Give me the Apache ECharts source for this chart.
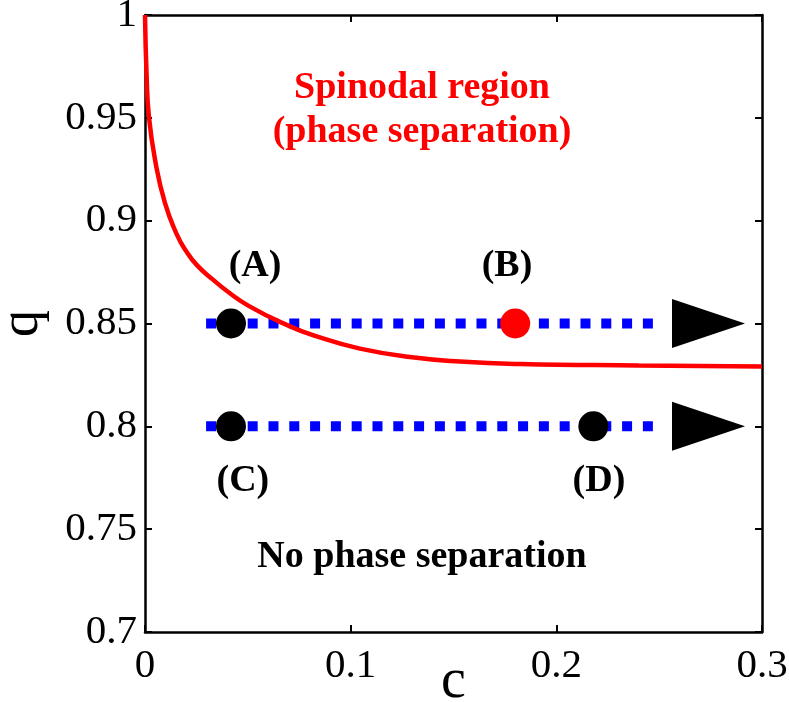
<!DOCTYPE html>
<html>
<head>
<meta charset="utf-8">
<script src="https://cdn.jsdelivr.net/npm/echarts@6/dist/echarts.min.js"></script>
<style>
  html, body { margin: 0; padding: 0; background: #fff; }
  #chart { width: 789px; height: 702px; }
</style>
</head>
<body>
<div id="chart"></div>
<script>
// Spinodal boundary q(c)
const spinodalC = [0, 0.0008, 0.0019, 0.0049, 0.0097, 0.0154, 0.020, 0.0251, 0.0332, 0.0413, 0.0494, 0.0656, 0.0851, 0.1045, 0.1288, 0.1532, 0.1823, 0.24, 0.3];
const spinodalQ = [1, 0.970, 0.9506, 0.9295, 0.9086, 0.8935, 0.8852, 0.8785, 0.8712, 0.8647, 0.8592, 0.8508, 0.8432, 0.8378, 0.8337, 0.8315, 0.8303, 0.8296, 0.8291];

// Quench paths (dotted blue) at two fixed q values
const pathQ = [0.85, 0.8];
const pathStartC = 0.0297;
const pathEndC = 0.2495;
const arrowC = 0.274;

// State points
const pointNames = ['A', 'B', 'C', 'D'];
const pointC = [0.0418, 0.180, 0.0418, 0.218];
const pointQ = [0.85, 0.85, 0.8, 0.8];
const pointColor = ['#000000', '#ff0000', '#000000', '#000000'];

// Point labels
const tagText = ['(A)', '(B)', '(C)', '(D)'];
const tagC = [0.0535, 0.176, 0.0476, 0.2207];
const tagQ = [0.878, 0.878, 0.7734, 0.7734];

// Region annotations
const regionText = ['Spinodal region', '(phase separation)', 'No phase separation'];
const regionC = [0.1347, 0.1347, 0.1347];
const regionQ = [0.9645, 0.9431, 0.7365];
const regionColor = ['#ff0000', '#ff0000', '#000000'];

// Axis ticks
const xTicks = [0, 0.1, 0.2, 0.3];
const yTicks = [0.7, 0.75, 0.8, 0.85, 0.9, 0.95, 1];

const FONT = "'Liberation Serif', 'Times New Roman', serif";

const chart = echarts.init(document.getElementById('chart'), null, { renderer: 'canvas' });

const series = [];

// dotted horizontal paths
pathQ.forEach(function (q) {
  series.push({
    type: 'line',
    data: [[pathStartC, q], [pathEndC, q]],
    symbol: 'none',
    lineStyle: { color: '#0000ff', width: 10, type: [10, 10.8], cap: 'butt', opacity: 1 },
    z: 2,
    silent: true
  });
});

// arrow heads at the end of each path
series.push({
  type: 'scatter',
  data: pathQ.map(function (q) { return [arrowC, q]; }),
  symbol: 'path://M0,0 L73,24.5 L0,49 Z',
  symbolSize: [73, 49],
  itemStyle: { color: '#000000', opacity: 1 },
  z: 3,
  silent: true
});

// spinodal curve
series.push({
  type: 'line',
  data: spinodalC.map(function (c, i) { return [c, spinodalQ[i]]; }),
  smooth: 0.5,
  symbol: 'none',
  lineStyle: { color: '#ff0000', width: 4.5, opacity: 1 },
  z: 4,
  silent: true
});

// state points
series.push({
  type: 'scatter',
  data: pointC.map(function (c, i) {
    return { name: pointNames[i], value: [c, pointQ[i]], itemStyle: { color: pointColor[i], opacity: 1 } };
  }),
  symbol: 'circle',
  symbolSize: 30,
  z: 5,
  silent: true
});

// text annotations
function textSeries(cs, qs, texts, colors) {
  return {
    type: 'scatter',
    data: cs.map(function (c, i) {
      return {
        value: [c, qs[i]],
        label: {
          show: true,
          formatter: texts[i],
          color: colors[i],
          opacity: 1,
          position: 'inside',
          fontFamily: FONT,
          fontWeight: 'bold',
          fontSize: 38
        }
      };
    }),
    symbolSize: 1,
    itemStyle: { color: '#ffffff', opacity: 0 },
    z: 6,
    silent: true
  };
}
series.push(textSeries(tagC, tagQ, tagText, ['#000000', '#000000', '#000000', '#000000']));
series.push(textSeries(regionC, regionQ, regionText, regionColor));

const axisFont = { fontFamily: FONT, fontSize: 41, color: '#000000' };

chart.setOption({
  animation: false,
  backgroundColor: '#ffffff',
  grid: { left: 145, top: 15, width: 617, height: 617, show: false, containLabel: false, outerBoundsMode: 'none' },
  xAxis: [
    {
      type: 'value', position: 'bottom',
      min: xTicks[0], max: xTicks[xTicks.length - 1], interval: 0.1,
      name: 'c', nameLocation: 'middle', nameGap: 22, nameMoveOverlap: false,
      nameTextStyle: { fontFamily: FONT, fontSize: 56, color: '#000000' },
      axisLine: { show: true, onZero: false, lineStyle: { color: '#000', width: 2.5 } },
      axisTick: { show: true, inside: true, length: 7, lineStyle: { color: '#000', width: 2 } },
      axisLabel: Object.assign({ margin: 14, formatter: function (v) { return String(+v.toFixed(2)); } }, axisFont),
      splitLine: { show: false }
    },
    {
      type: 'value', position: 'top',
      min: xTicks[0], max: xTicks[xTicks.length - 1], interval: 0.1,
      axisLine: { show: true, onZero: false, lineStyle: { color: '#000', width: 2.5 } },
      axisTick: { show: true, inside: true, length: 7, lineStyle: { color: '#000', width: 2 } },
      axisLabel: { show: false },
      splitLine: { show: false }
    }
  ],
  yAxis: [
    {
      type: 'value', position: 'left',
      min: yTicks[0], max: yTicks[yTicks.length - 1], interval: 0.05,
      name: 'q', nameLocation: 'middle', nameGap: 95, nameRotate: 90, nameMoveOverlap: false,
      nameTextStyle: { fontFamily: FONT, fontSize: 54, color: '#000000' },
      axisLine: { show: true, onZero: false, lineStyle: { color: '#000', width: 2.5 } },
      axisTick: { show: true, inside: true, length: 7, lineStyle: { color: '#000', width: 2 } },
      axisLabel: Object.assign({ margin: 8, formatter: function (v) { return String(+v.toFixed(2)); } }, axisFont),
      splitLine: { show: false }
    },
    {
      type: 'value', position: 'right',
      min: yTicks[0], max: yTicks[yTicks.length - 1], interval: 0.05,
      axisLine: { show: true, onZero: false, lineStyle: { color: '#000', width: 2.5 } },
      axisTick: { show: true, inside: true, length: 7, lineStyle: { color: '#000', width: 2 } },
      axisLabel: { show: false },
      splitLine: { show: false }
    }
  ],
  series: series
});
</script>
</body>
</html>
